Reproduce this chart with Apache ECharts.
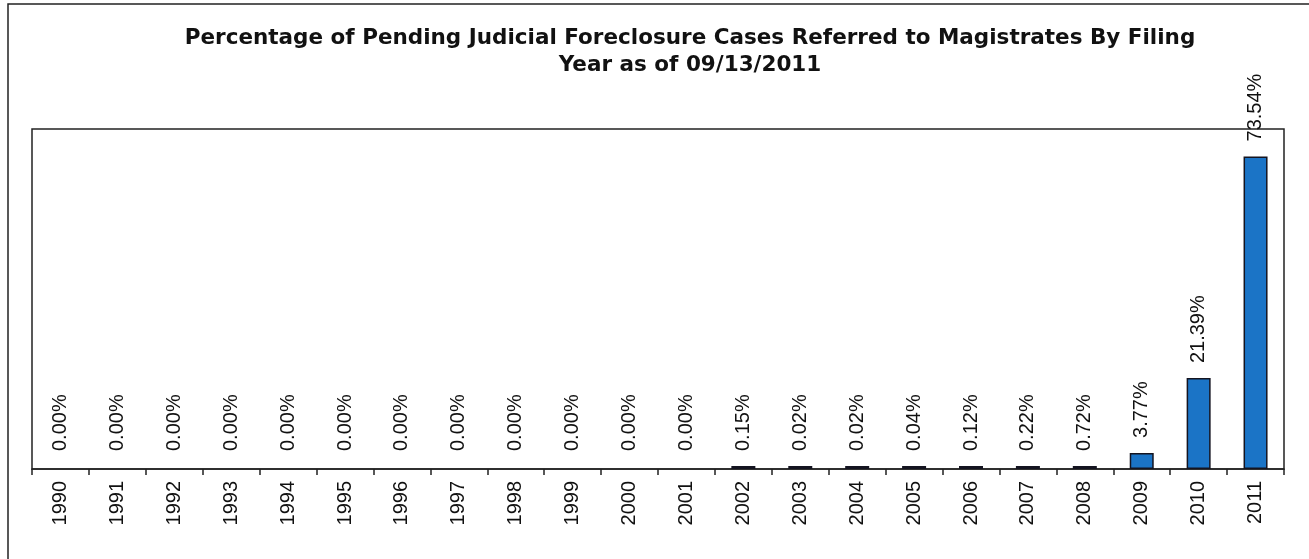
<!DOCTYPE html>
<html>
<head>
<meta charset="utf-8">
<script src="https://cdn.jsdelivr.net/npm/echarts@6/dist/echarts.min.js"></script>
<style>
  html, body { margin: 0; padding: 0; background: #fff; }
  #chart { width: 1309px; height: 559px; }
</style>
</head>
<body>
<div id="chart"></div>
<script>
// filing years and share of pending cases (%)
const years = ['1990', '1991', '1992', '1993', '1994', '1995', '1996', '1997', '1998', '1999',
  '2000', '2001', '2002', '2003', '2004', '2005', '2006', '2007', '2008', '2009', '2010', '2011'];
const percents = [0.00, 0.00, 0.00, 0.00, 0.00, 0.00, 0.00, 0.00, 0.00, 0.00,
  0.00, 0.00, 0.15, 0.02, 0.02, 0.04, 0.12, 0.22, 0.72, 3.77, 21.39, 73.54];
const titleText = 'Percentage of Pending Judicial Foreclosure Cases Referred to Magistrates By Filing\nYear as of 09/13/2011';

const font = 'Liberation Sans, Arial, sans-serif';

// zero years get no visible bar, tiny ones still show as a thin sliver
const hidden = { color: 'rgba(0,0,0,0)', borderColor: 'rgba(0,0,0,0)' };
const barData = percents.map(v => v > 0 ? v : { value: v, itemStyle: hidden });

const option = {
  backgroundColor: '#fff',
  animation: false,
  title: {
    text: titleText,
    left: 685,
    top: 20,
    textAlign: 'center',
    textStyle: {
      fontFamily: 'DejaVu Sans, sans-serif',
      fontWeight: 'bold',
      fontSize: 21.5,
      lineHeight: 27,
      color: '#111'
    }
  },
  // outer frame of the scanned chart
  graphic: [{
    type: 'rect',
    shape: { x: 8, y: 4, width: 1400, height: 600 },
    style: { fill: 'none', stroke: '#222', lineWidth: 1.5 }
  }],
  grid: {
    left: 32,
    right: 25,
    top: 129,
    bottom: 90,
    show: true,
    borderColor: '#222',
    borderWidth: 1.5
  },
  xAxis: {
    type: 'category',
    data: years,
    axisLine: { lineStyle: { color: '#222', width: 1.5 } },
    axisTick: { show: true, interval: 0, length: 6, lineStyle: { color: '#222', width: 1.5 } },
    axisLabel: {
      rotate: 90,
      margin: 12,
      interval: 0,
      fontFamily: font,
      fontSize: 20,
      color: '#111'
    }
  },
  yAxis: {
    type: 'value',
    min: 0,
    max: 80,
    show: false,
    splitLine: { show: false }
  },
  series: [{
    type: 'bar',
    data: barData,
    barWidth: 24,
    barMinHeight: 3,
    itemStyle: {
      color: '#1b74c6',
      borderColor: '#141420',
      borderWidth: 1.5
    },
    label: {
      show: true,
      position: 'top',
      distance: 15,
      rotate: 90,
      align: 'left',
      verticalAlign: 'middle',
      fontFamily: font,
      fontSize: 20,
      color: '#111',
      formatter: p => p.value.toFixed(2) + '%'
    }
  }]
};

echarts.init(document.getElementById('chart')).setOption(option);
</script>
</body>
</html>
